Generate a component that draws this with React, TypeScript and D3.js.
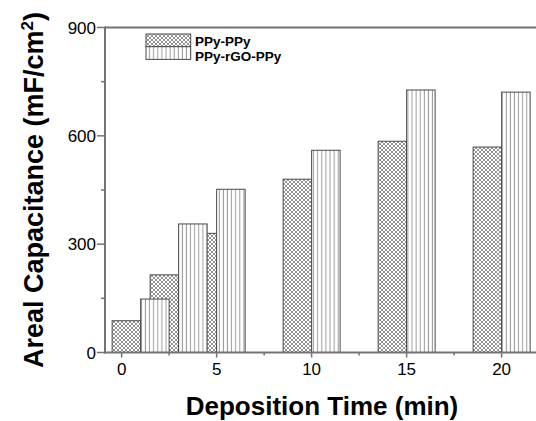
import React from "react";
import * as d3 from "d3";

const times = [1, 3, 5, 10, 15, 20];
const ppyPpy = [88, 215, 330, 480, 585, 569];
const ppyRgoPpy = [148, 356, 452, 560, 727, 721];
const seriesNames = ["PPy-PPy", "PPy-rGO-PPy"];
const xTicks = [0, 5, 10, 15, 20];
const xMinorTicks = [2.5, 7.5, 12.5, 17.5];
const yTicks = [0, 300, 600, 900];
const yMinorTicks = [150, 450, 750];

const W = 536;
const H = 421;
const left = 105;
const top = 27.5;
const bottom = 352.5;
const barW = 1.5;

export default function App() {
  const x = d3.scaleLinear().domain([-0.875, 22]).range([left, left + 22.875 * 19]);
  const y = d3.scaleLinear().domain([0, 900]).range([bottom, top]);
  const axisColor = "#737373";
  const font = "'Liberation Sans', Arial, sans-serif";
  const barStroke = "#4a4a4a";

  return (
    <svg
      width={W}
      height={H}
      style={{ position: "absolute", left: 0, top: 0, background: "#fff" }}
      fontFamily={font}
    >
      <defs>
        <pattern id="cross" width={4} height={4} patternUnits="userSpaceOnUse">
          <rect width={4} height={4} fill="#fff" />
          <path d="M0,0 L4,4 M4,0 L0,4 M-1,1 L1,-1 M3,5 L5,3 M-1,3 L1,5 M3,-1 L5,1" stroke="#7a7a7a" strokeWidth={0.8} />
        </pattern>
        <pattern id="vert" width={4.1} height={4} patternUnits="userSpaceOnUse">
          <rect width={4.1} height={4} fill="#fff" />
          <line x1={2} y1={0} x2={2} y2={4} stroke="#999" strokeWidth={1} />
        </pattern>
      </defs>

      {/* bars: series 1 then series 2 */}
      {times.map((t, i) => (
        <rect
          key={"a" + i}
          x={x(t - barW)}
          y={y(ppyPpy[i])}
          width={x(t) - x(t - barW)}
          height={y(0) - y(ppyPpy[i])}
          fill="url(#cross)"
          stroke={barStroke}
          strokeWidth={1}
        />
      ))}
      {times.map((t, i) => (
        <rect
          key={"b" + i}
          x={x(t)}
          y={y(ppyRgoPpy[i])}
          width={x(t + barW) - x(t)}
          height={y(0) - y(ppyRgoPpy[i])}
          fill="url(#vert)"
          stroke={barStroke}
          strokeWidth={1}
        />
      ))}

      {/* frame */}
      <line x1={left} y1={top} x2={W} y2={top} stroke={axisColor} strokeWidth={2} />
      <line x1={left} y1={top - 1} x2={left} y2={bottom + 1} stroke={axisColor} strokeWidth={2} />
      <line x1={left - 1} y1={bottom} x2={W} y2={bottom} stroke={axisColor} strokeWidth={2} />

      {/* y ticks */}
      {yTicks.map((v) => (
        <g key={"yt" + v}>
          <line x1={left - 8} x2={left} y1={y(v)} y2={y(v)} stroke={axisColor} strokeWidth={1.5} />
          <text x={left - 9} y={y(v) + 6} fontSize={17} textAnchor="end" fill="#000">
            {v}
          </text>
        </g>
      ))}
      {yMinorTicks.map((v) => (
        <line key={"ym" + v} x1={left - 4} x2={left} y1={y(v)} y2={y(v)} stroke={axisColor} strokeWidth={1.5} />
      ))}

      {/* x ticks */}
      {xTicks.map((v) => (
        <g key={"xt" + v}>
          <line x1={x(v)} x2={x(v)} y1={bottom} y2={bottom + 5} stroke={axisColor} strokeWidth={1.5} />
          <text x={x(v)} y={375} fontSize={17} textAnchor="middle" fill="#000">
            {v}
          </text>
        </g>
      ))}
      {xMinorTicks.map((v) => (
        <line key={"xm" + v} x1={x(v)} x2={x(v)} y1={bottom} y2={bottom + 3} stroke={axisColor} strokeWidth={1.5} />
      ))}

      {/* axis titles */}
      <text x={322} y={415} fontSize={26} fontWeight="bold" textAnchor="middle" fill="#000">
        Deposition Time (min)
      </text>
      <text
        transform={`translate(43,190) rotate(-90)`}
        fontSize={27}
        fontWeight="bold"
        textAnchor="middle"
        fill="#000"
      >
        Areal Capacitance (mF/cm
        <tspan dy={-10} fontSize={17}>2</tspan>
        <tspan dy={10}>)</tspan>
      </text>

      {/* legend */}
      <rect x={146} y={34} width={44.7} height={12.7} fill="url(#cross)" stroke={barStroke} strokeWidth={1} />
      <rect x={146} y={46.7} width={44.7} height={12.7} fill="url(#vert)" stroke={barStroke} strokeWidth={1} />
      <text x={195} y={45.5} fontSize={13.5} fontWeight="bold" fill="#000">
        {seriesNames[0]}
      </text>
      <text x={195} y={60.5} fontSize={13.5} fontWeight="bold" fill="#000">
        {seriesNames[1]}
      </text>
    </svg>
  );
}
